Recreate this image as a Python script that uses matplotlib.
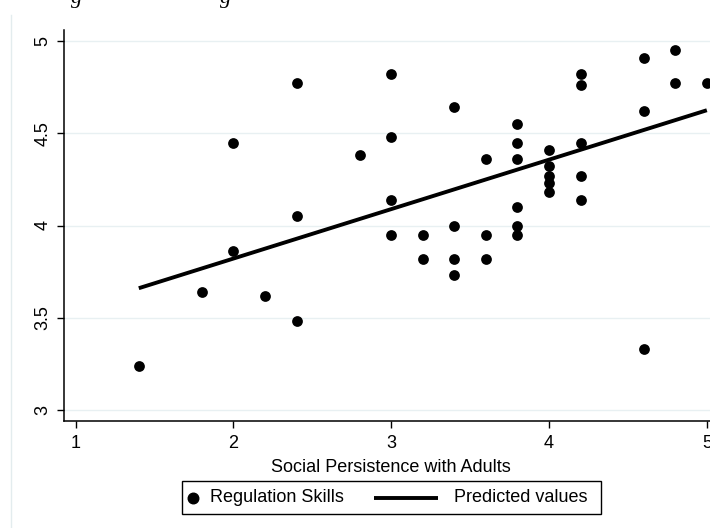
import matplotlib
matplotlib.use("Agg")
import matplotlib.pyplot as plt
from matplotlib.lines import Line2D
from matplotlib.patches import Rectangle

plt.rcParams['font.family'] = ['Liberation Sans', 'DejaVu Sans']

# ---- data ----
social_persistence = [1.4, 1.8, 2.0, 2.0, 2.2, 2.4, 2.4, 2.4, 2.8,
                      3.0, 3.0, 3.0, 3.0, 3.2, 3.2,
                      3.4, 3.4, 3.4, 3.4, 3.6, 3.6, 3.6,
                      3.8, 3.8, 3.8, 3.8, 3.8, 3.8,
                      4.0, 4.0, 4.0, 4.0, 4.0,
                      4.2, 4.2, 4.2, 4.2, 4.2,
                      4.6, 4.6, 4.6, 4.8, 4.8, 5.0]
regulation_skills = [3.24, 3.64, 3.86, 4.45, 3.62, 3.48, 4.05, 4.77, 4.38,
                     3.95, 4.14, 4.48, 4.82, 3.82, 3.95,
                     3.73, 3.82, 4.00, 4.64, 3.82, 3.95, 4.36,
                     3.95, 4.00, 4.10, 4.36, 4.45, 4.55,
                     4.18, 4.23, 4.27, 4.32, 4.41,
                     4.14, 4.27, 4.45, 4.76, 4.82,
                     3.33, 4.62, 4.91, 4.77, 4.95, 4.77]
pred_x = [1.4, 5.0]
pred_y = [3.66, 4.625]

x_ticks = [1, 2, 3, 4, 5]
y_ticks = [3, 3.5, 4, 4.5, 5]
y_tick_labels = ['3', '3.5', '4', '4.5', '5']
x_label = 'Social Persistence with Adults'
legend_labels = ['Regulation Skills', 'Predicted values']

W, H = 710, 528
fig = plt.figure(figsize=(W / 100, H / 100), dpi=100)
fig.patch.set_facecolor('white')

def fx(px):
    return px / W

def fy(py):
    return 1 - py / H

# faint outer border (document frame)
fig.add_artist(Line2D([fx(10.5), fx(10.5)], [fy(15), fy(528)],
                      color='#e3ecee', lw=1.0))

# remnants of caption text above the figure (cut off in the reference too)
for gx in [77, 226]:
    fig.text(fx(gx), fy(3), 'g', fontsize=16, family='Liberation Serif',
             style='italic', ha='center', va='baseline', color='black')

left, right, top, bottom = 64, 710, 30, 421
ax = fig.add_axes([fx(left), fy(bottom), fx(right - left), (bottom - top) / H])
ax.set_xlim(0.926, 5.02)
ax.set_ylim(2.94, 5.06)

ax.set_yticks(y_ticks)
ax.set_yticklabels(y_tick_labels, rotation=90, va='center')
ax.set_xticks(x_ticks)
ax.tick_params(axis='both', labelsize=13, length=5, width=1, color='black',
               pad=5, direction='out')
ax.tick_params(axis='y', pad=4)

for s in ['top', 'right']:
    ax.spines[s].set_visible(False)
for s in ['left', 'bottom']:
    ax.spines[s].set_linewidth(1.1)
    ax.spines[s].set_color('black')

ax.grid(axis='y', color='#e8f0f2', lw=1.0)
ax.set_axisbelow(True)

ax.scatter(social_persistence, regulation_skills, s=60, color='black',
           zorder=3, clip_on=False, linewidths=0)
ax.plot(pred_x, pred_y, color='black', lw=2.8, zorder=2, solid_capstyle='butt')

fig.text(fx(391), fy(467), x_label, fontsize=13, ha='center', va='center')

# legend (manual, to match layout)
fig.add_artist(Rectangle((fx(182), fy(514)), fx(601 - 182), (514 - 481) / H,
                         facecolor='white', edgecolor='black', lw=1.0,
                         transform=fig.transFigure))
fig.add_artist(Line2D([fx(193)], [fy(497.5)], marker='o', markersize=7.6,
                      color='black', linestyle='none'))
fig.text(fx(210), fy(497.5), legend_labels[0], fontsize=13, ha='left', va='center')
fig.add_artist(Line2D([fx(374), fx(438)], [fy(497.5), fy(497.5)],
                      color='black', lw=2.8, solid_capstyle='butt'))
fig.text(fx(454), fy(497.5), legend_labels[1], fontsize=13, ha='left', va='center')

fig.savefig('out.png', dpi=100)
